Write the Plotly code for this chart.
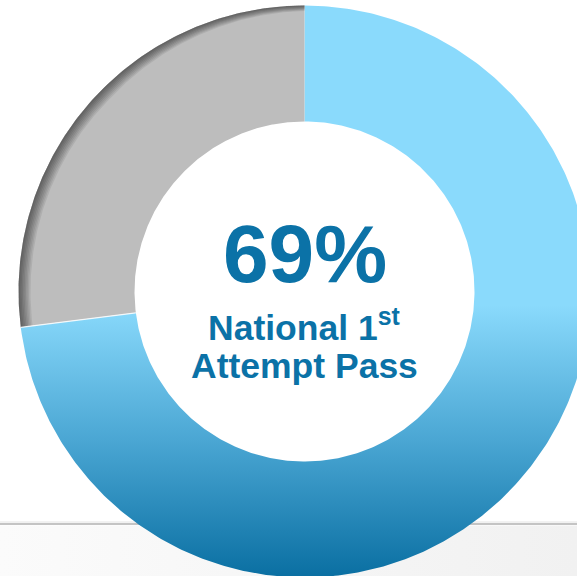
import numpy as np
import plotly.graph_objects as go

# ---- data ----
categories = ["Passed on 1st attempt", "Not passed"]
shares = [73, 27]                 # share of the ring as drawn (percent)
slice_colors = ["#8ADAFC", "#BDBDBD"]
headline = "69%"
caption_lines = ["National 1<sup>st</sup>", "Attempt Pass"]

# ---- layout constants (pixel-like data space) ----
W, H = 577, 576
CX, CY = 304.5, 291.5
R_OUT, R_IN = 286.0, 170.0
TEXT_COLOR = "#0B72A7"
FONT = "Arial, Liberation Sans, sans-serif"


def pt(theta_deg, rho):
    t = np.radians(theta_deg)
    return CX + rho * np.sin(t), CY - rho * np.cos(t)


def sector(t0, t1, r_out, r_in, n=400):
    th = np.linspace(t0, t1, n)
    xo, yo = pt(th, r_out)
    xi, yi = pt(th[::-1], r_in)
    x = np.concatenate([xo, xi, xo[:1]])
    y = np.concatenate([yo, yi, yo[:1]])
    return x, y


total = float(sum(shares))
bounds = np.concatenate([[0.0], np.cumsum(shares) / total * 360.0])

fig = go.Figure()

# slide background panel under the separator line (subtle horizontal gradient)
fig.add_trace(go.Scatter(
    x=[0, W, W, 0, 0], y=[525.5, 525.5, H, H, 525.5], mode="lines", fill="toself",
    line=dict(width=0), hoverinfo="skip", showlegend=False,
    fillgradient=dict(type="horizontal", start=0, stop=W,
                      colorscale=[[0, "#FBFBFB"], [1, "#F1F1F1"]]),
))

# blue slice with vertical gradient
x, y = sector(bounds[0], bounds[1], R_OUT, R_IN)
fig.add_trace(go.Scatter(
    x=x, y=y, mode="lines", fill="toself", line=dict(width=0),
    name=categories[0], hoverinfo="skip", showlegend=False,
    fillgradient=dict(type="vertical", start=305, stop=577,
                      colorscale=[[0, slice_colors[0]], [0.5, "#4AA6D3"], [1, "#0A6FA2"]]),
))

# gray slice
x, y = sector(bounds[1], bounds[2], R_OUT, R_IN)
fig.add_trace(go.Scatter(
    x=x, y=y, mode="lines", fill="toself", line=dict(width=0),
    fillcolor=slice_colors[1], name=categories[1], hoverinfo="skip", showlegend=False,
))

# inner shadow on the outer edge of the gray slice
th = np.linspace(bounds[1], bounds[2], 300)
taper = np.clip((360.0 - th) / 45.0, 0.0, 1.0) * 0.55 + 0.45
for i in range(1, 9):
    xo, yo = pt(th, R_OUT)
    xi, yi = pt(th[::-1], R_OUT - i * 1.5 * taper[::-1])
    fig.add_trace(go.Scatter(
        x=np.concatenate([xo, xi, xo[:1]]), y=np.concatenate([yo, yi, yo[:1]]),
        mode="lines", fill="toself", line=dict(width=0),
        fillcolor="rgba(0,0,0,0.075)", hoverinfo="skip", showlegend=False,
    ))

# thin light separator at the left boundary
xs, ys = pt(np.array([bounds[1], bounds[1]]), np.array([R_IN, R_OUT]))
fig.add_trace(go.Scatter(x=xs, y=ys, mode="lines",
                         line=dict(color="rgba(255,255,255,0.85)", width=1.2),
                         hoverinfo="skip", showlegend=False))

# center texts
fig.add_annotation(x=CX, y=253, xref="x", yref="y", text=f"<b>{headline}</b>",
                   showarrow=False, xanchor="center", yanchor="middle", borderpad=0,
                   font=dict(family=FONT, size=82, color=TEXT_COLOR))
fig.add_annotation(x=CX - 1, y=325.5, xref="x", yref="y", text=f"<b>{caption_lines[0]}</b>",
                   showarrow=False, xanchor="center", yanchor="middle", borderpad=0,
                   font=dict(family=FONT, size=35.5, color=TEXT_COLOR))
fig.add_annotation(x=CX, y=366, xref="x", yref="y", text=f"<b>{caption_lines[1]}</b>",
                   showarrow=False, xanchor="center", yanchor="middle", borderpad=0,
                   font=dict(family=FONT, size=35.5, color=TEXT_COLOR))

# slide separator line
fig.add_shape(type="line", xref="paper", yref="y", x0=0, x1=1, y0=522, y1=522,
              line=dict(color="#E4E4E4", width=1), layer="below")
fig.add_shape(type="line", xref="paper", yref="y", x0=0, x1=1, y0=524, y1=524,
              line=dict(color="#C4C4C4", width=2), layer="below")

fig.update_layout(
    width=W, height=H, margin=dict(l=0, r=0, t=0, b=0),
    paper_bgcolor="white", plot_bgcolor="white",
    xaxis=dict(range=[0, W], visible=False, fixedrange=True),
    yaxis=dict(range=[H, 0], visible=False, fixedrange=True),
    showlegend=False,
)

fig.write_html(
    "out.html",
    config={"displayModeBar": False},
    post_script="document.body.style.margin='0';document.body.style.overflow='hidden';",
)
